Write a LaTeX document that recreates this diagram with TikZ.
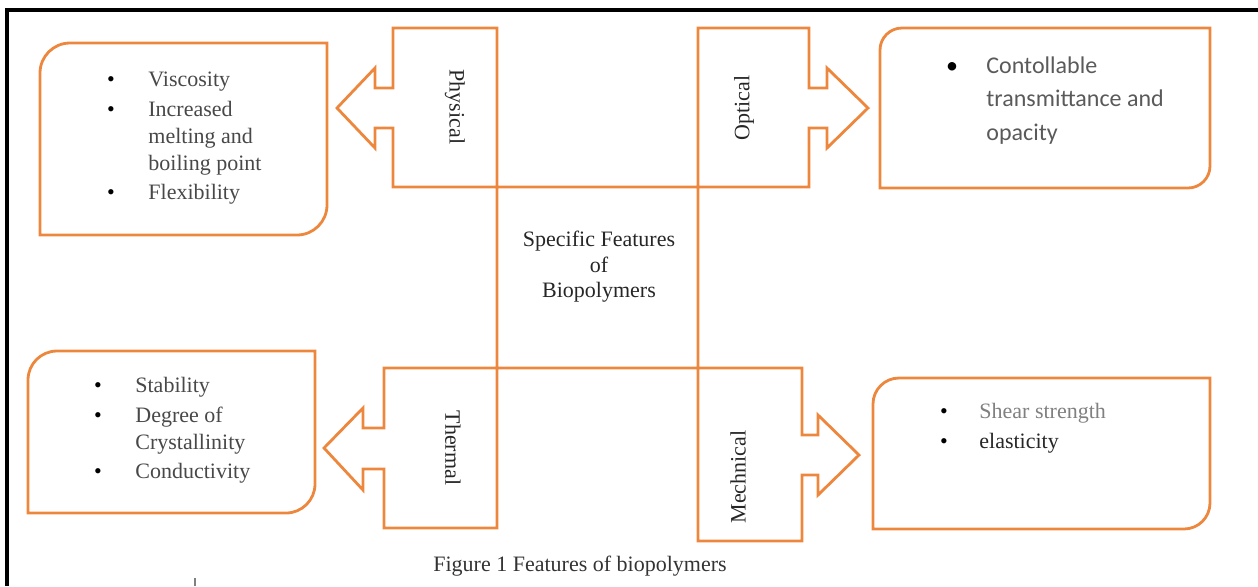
\documentclass[tikz,border=0pt]{standalone}
\usepackage{fontspec}
\setmainfont{Liberation Serif}
\newfontfamily\calibrifont{Carlito}
\definecolor{org}{RGB}{237,135,62}
\definecolor{txt}{RGB}{72,72,72}
\definecolor{stxt}{RGB}{90,90,90}
\newcommand{\rdbox}[5]{%
  \draw[orangeline] (#1,#4) -- (#1,#2+#5) arc[start angle=180,end angle=270,radius=#5]
    -- (#3,#2) -- (#3,#4-#5) arc[start angle=0,end angle=90,radius=#5] -- cycle;}
\begin{document}
\begin{tikzpicture}[x=0.5pt,y=-0.5pt,
  orangeline/.style={draw=org,line width=1.4pt,line join=miter},
  itm/.style={anchor=base west,inner sep=0pt,text=txt,font=\fontsize{11}{13}\selectfont},
  bul/.style={anchor=base,inner sep=0pt,text=black,font=\fontsize{11}{13}\selectfont},
  sitm/.style={anchor=base west,inner sep=0pt,text=stxt,font=\calibrifont\fontsize{12}{14}\selectfont},
  sbul/.style={anchor=base,inner sep=0pt,text=black,font=\calibrifont\fontsize{12}{14}\selectfont},
  lbl/.style={inner sep=0pt,text=black!85,font=\fontsize{11}{13}\selectfont}]
\useasboundingbox (0,0) rectangle (1258,586);
% outer frame
\coordinate (frTR) at (1258,10);
\coordinate (frTL) at (7,10);
\coordinate (frBL) at (7,586);
\draw[line width=2pt,black] (frTR) -- (frTL) -- (frBL);
% cross with four arrow callouts
\draw[orangeline] (809,187) -- (393,187) -- (393,128) -- (375,128) -- (375,148) -- (337,108)
  -- (375,68) -- (375,88) -- (393,88) -- (393,28) -- (497,28) -- (497,528) -- (384,528)
  -- (384,469) -- (363,469) -- (363,490) -- (324,448) -- (363,408) -- (363,428) -- (384,428)
  -- (384,368) -- (802,368) -- (802,435) -- (818,435) -- (818,415) -- (859,455) -- (818,495)
  -- (818,475) -- (802,475) -- (802,541) -- (698,541) -- (698,28) -- (809,28) -- (809,88)
  -- (827,88) -- (827,68) -- (868,108) -- (827,148) -- (827,128) -- (809,128) -- cycle;
% content boxes
\rdbox{40}{43}{327}{235}{30}
\rdbox{880}{28}{1210}{188}{22}
\rdbox{28}{351}{315}{513}{29}
\rdbox{873}{378}{1210}{529}{26}
% labels
\node[lbl,rotate=-90] (phys) at (455,107) {Physical};
\node[lbl,rotate=90] (opt) at (744,108) {Optical};
\node[lbl,rotate=-90] (therm) at (453,448) {Thermal};
\node[lbl,rotate=90] (mech) at (738,477) {Mechnical};
\node[lbl,align=center,font=\fontsize{11}{12.75}\selectfont] (centre) at (599,267)
  {Specific Features\\of\\Biopolymers};
% physical list
\node[bul] (pb1) at (111,86) {\textbullet};
\node[itm] (p1) at (148,86) {Viscosity};
\node[bul] (pb2) at (111,116) {\textbullet};
\node[itm] (p2) at (148,116) {Increased};
\node[itm] (p3) at (148,143) {melting and};
\node[itm] (p4) at (148,170) {boiling point};
\node[bul] (pb3) at (111,199) {\textbullet};
\node[itm] (p5) at (148,199) {Flexibility};
% thermal list
\node[bul] (tb1) at (98,392) {\textbullet};
\node[itm] (t1) at (135,392) {Stability};
\node[bul] (tb2) at (98,422) {\textbullet};
\node[itm] (t2) at (135,422) {Degree of};
\node[itm] (t3) at (135,449) {Crystallinity};
\node[bul] (tb3) at (98,478) {\textbullet};
\node[itm] (t4) at (135,478) {Conductivity};
% optical list
\node[sbul] (ob1) at (952,73) {\textbullet};
\node[sitm] (o1) at (986,73) {Contollable};
\node[sitm] (o2) at (986,106) {transmittance and};
\node[sitm] (o3) at (986,140) {opacity};
% mechanical list
\node[bul] (mb1) at (944,418) {\textbullet};
\node[itm,text=gray] (m1) at (979,418) {Shear strength};
\node[bul] (mb2) at (944,448) {\textbullet};
\node[itm,text=black!85] (m2) at (979,448) {elasticity};
% caption
\node[lbl,text=black!80] (cap) at (580,566) {Figure 1 Features of biopolymers};
% small caret mark
\coordinate (caretA) at (195,578);
\coordinate (caretB) at (195,586);
\draw[gray,line width=0.6pt] (caretA) -- (caretB);
\end{tikzpicture}
\end{document}
